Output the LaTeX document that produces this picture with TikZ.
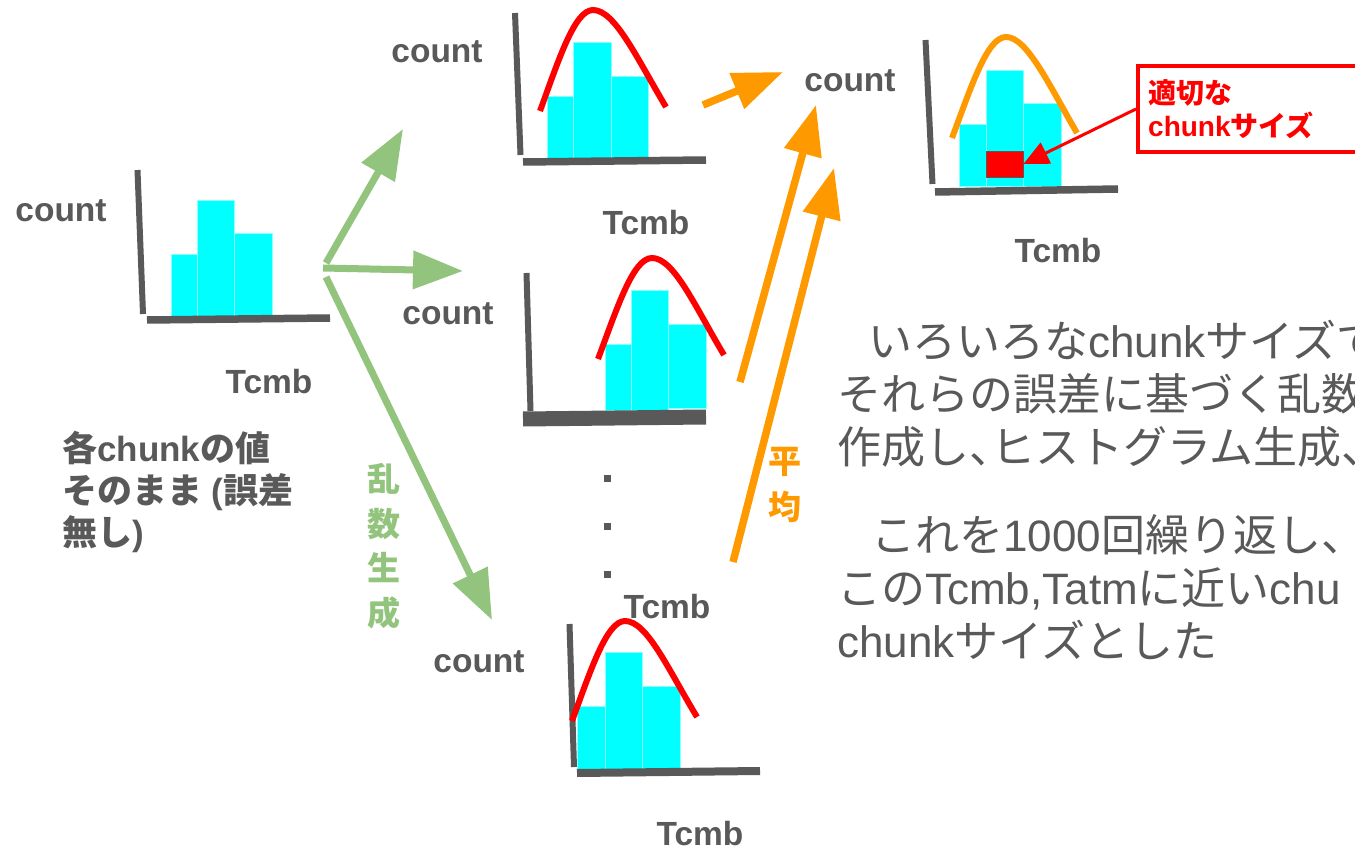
\documentclass[tikz,border=0pt]{standalone}
\usepackage{fontspec}
\setmainfont{Liberation Sans}
\newfontfamily\jp{Noto Sans CJK JP}
\usetikzlibrary{arrows.meta}
\definecolor{txtgray}{HTML}{595959}
\definecolor{axgray}{HTML}{595959}
\definecolor{hcyan}{HTML}{00FFFF}
\definecolor{grn}{HTML}{93C47D}
\definecolor{orng}{HTML}{FF9900}
\newcommand{\halfcomma}{\makebox[0.5em][l]{、}}
\tikzset{
  yax/.style={draw=axgray, line width=6pt},
  xax/.style={draw=axgray, line width=7.5pt},
  bar/.style={fill=hcyan, draw=white!55!hcyan, line width=0.8pt},
  bell/.style={draw=red, line width=6pt},
  lbl/.style={font=\fontsize{33.5}{40}\selectfont\bfseries, text=txtgray, anchor=base, inner sep=0pt},
  lefttxt/.style={font=\fontsize{35}{40}\selectfont\bfseries, text=txtgray, anchor=base west, inner sep=0pt},
  body/.style={font=\fontsize{44}{50}\selectfont, text=txtgray, anchor=base west, inner sep=0pt},
  vchar/.style={font=\fontsize{33}{40}\selectfont\bfseries\jp, anchor=base, inner sep=0pt},
  redtxt/.style={font=\fontsize{28}{34}\selectfont\bfseries, text=red, anchor=base west, inner sep=0pt},
  garrow/.style={draw=grn, line width=7pt, -{Triangle[length=50pt,width=37pt]}},
  oarrow/.style={draw=orng, line width=7.5pt, -{Triangle[length=50pt,width=37pt]}},
  rarrow/.style={draw=red, line width=3pt, -{Triangle[length=25pt,width=23pt]}},
  dot/.style={fill=axgray}
}
\begin{document}
\begin{tikzpicture}[x=1pt,y=-1pt]
\useasboundingbox (0,0) rectangle (1355,850);
\clip (0,0) rectangle (1355,850);
\fill[white] (0,0) rectangle (1355,850);

% ---------- histogram 1 (no error) ----------
\draw[bar] (171,254) rectangle (197,316);
\draw[bar] (197,200) rectangle (234,316);
\draw[bar] (234,233) rectangle (272,316);
\draw[yax] (137.5,170) -- (143,314);
\draw[xax] (147,320) -- (330,318);
\node[lbl] (c1) at (61,222) {count};
\node[lbl] (t1) at (269,393) {Tcmb};

% ---------- histogram 2 ----------
\draw[bar] (547,96) rectangle (573,158);
\draw[bar] (573,42) rectangle (611,158);
\draw[bar] (611,76) rectangle (648,158);
\draw[yax] (515,13) -- (520.5,155);
\draw[xax] (523,162) -- (706,160);
\draw[bell] (540,111) .. controls (558.5,60.5) and (574.5,10) .. (593,10)
                      .. controls (615,10) and (637,58.5) .. (666,107);
\node[lbl] (c2) at (437,63) {count};
\node[lbl] (t2) at (646,235) {Tcmb};

% ---------- histogram 3 ----------
\draw[bar] (605,344) rectangle (631,410);
\draw[bar] (631,290) rectangle (668,410);
\draw[bar] (668,324) rectangle (706,408);
\draw[yax] (526.5,273) -- (530.5,411);
\draw[xax, line width=15pt] (523,419) -- (706,417);
\draw[bell] (598,359) .. controls (617,308.5) and (633,258) .. (652,258)
                      .. controls (674,258) and (695,306.5) .. (724,355);
\node[lbl] (c3) at (448,325) {count};
\node[lbl] (t3) at (667,618) {Tcmb};

% dots
\fill[dot] (603.5,474.5) rectangle ++(7,7);
\fill[dot] (603.5,522.5) rectangle ++(7,7);
\fill[dot] (603.5,570.5) rectangle ++(7,7);

% ---------- histogram 4 ----------
\draw[bar] (577,706) rectangle (605,770);
\draw[bar] (605,652) rectangle (642,770);
\draw[bar] (642,686) rectangle (680,770);
\draw[yax] (569.5,624) -- (574,767);
\draw[xax, line width=8pt] (577,773) -- (760,771);
\draw[bell] (572,721) .. controls (590.5,671) and (606.5,621) .. (625,621)
                      .. controls (647,621) and (668,669) .. (697,717);
\node[lbl] (c4) at (479,672) {count};
\node[lbl] (t4) at (700,845) {Tcmb};

% ---------- histogram 5 (result) ----------
\draw[bar] (959,124) rectangle (986,186);
\draw[bar] (986,70) rectangle (1023,186);
\draw[bar] (1023,103) rectangle (1061,186);
\draw[yax] (925.5,40) -- (932.5,184);
\draw[xax] (935,192) -- (1118,189);
\draw[bell, draw=orng] (952,138) .. controls (971,87.5) and (987,37) .. (1006,37)
                      .. controls (1027,37) and (1049,85) .. (1077,133);
\node[fill=red, draw=axgray, line width=0.8pt, minimum width=37pt, minimum height=26pt, inner sep=0pt] (sel) at (1004.5,164) {};
\node[lbl] (c5) at (850,92) {count};
\node[lbl] (t5) at (1058,263) {Tcmb};

% red callout
\node[draw=red, line width=4pt, minimum width=240pt, minimum height=86pt, anchor=north west, inner sep=0pt] (box) at (1136,64) {};
\node[redtxt] (bt1) at (1148,104) {\jp 適切な};
\node[redtxt] (bt2) at (1148,137) {chunk{\jp サイズ}};
\draw[rarrow] (box.west) -- (sel.east);

% ---------- left text ----------
\node[lefttxt] (l1) at (62,461) {{\jp 各}chunk{\jp の値}};
\node[lefttxt] (l2) at (62,503) {{\jp そのまま} ({\jp 誤差}};
\node[lefttxt] (l3) at (62,545) {{\jp 無し})};

% ---------- green arrows ----------
\coordinate (g0a) at (326,263);
\coordinate (g0b) at (323,268);
\coordinate (g0c) at (326,277);
\coordinate (g1) at (403,129);
\coordinate (g2) at (463,271);
\coordinate (g3) at (492,620);
\draw[garrow] (g0a) -- (g1);
\draw[garrow] (g0b) -- (g2);
\draw[garrow] (g0c) -- (g3);
\node[vchar, text=grn] (r1) at (384,491) {乱};
\node[vchar, text=grn] (r2) at (384,536) {数};
\node[vchar, text=grn] (r3) at (384,580) {生};
\node[vchar, text=grn] (r4) at (384,625) {成};

% ---------- orange arrows ----------
\coordinate (o1s) at (703,105);
\coordinate (o1e) at (783,72);
\coordinate (o2s) at (740,382);
\coordinate (o2e) at (816,105);
\coordinate (o3s) at (733,562);
\coordinate (o3e) at (834,168);
\draw[oarrow] (o1s) -- (o1e);
\draw[oarrow] (o2s) -- (o2e);
\draw[oarrow] (o3s) -- (o3e);
\node[vchar, text=orng] (a1) at (785,473) {平};
\node[vchar, text=orng] (a2) at (785,519) {均};

% ---------- body text ----------
\node[body] (p1) at (868,357) {{\jp いろいろな}chunk{\jp サイズで}};
\node[body] (p2) at (837,410) {{\jp それらの誤差に基づく乱数}};
\node[body] (p3) at (837,463) {{\jp 作成し\halfcomma ヒストグラム生成\halfcomma}};
\node[body] (p4) at (871,551) {{\jp これを}1000{\jp 回繰り返し\halfcomma}};
\node[body] (p5) at (837,604) {{\jp この}Tcmb,Tatm{\jp に近い}chu};
\node[body] (p6) at (837,657) {chunk{\jp サイズとした}};
\end{tikzpicture}
\end{document}
